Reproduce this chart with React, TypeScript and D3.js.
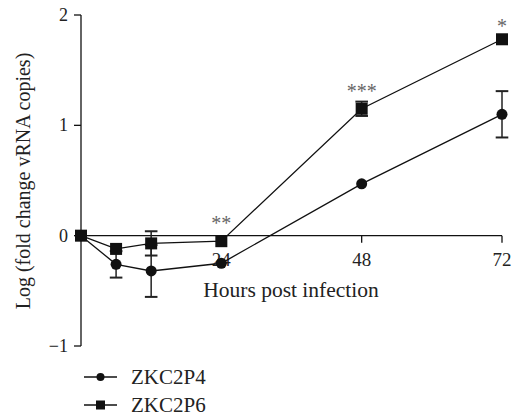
import React, { useEffect, useRef } from 'react';
import * as d3 from 'd3';

// hours post infection
const hours = [0, 6, 12, 24, 48, 72];
const xTicks = [24, 48, 72];
const yTicks = [-1, 0, 1, 2];

// log fold change, mean and error
const p4Mean = [0, -0.26, -0.32, -0.25, 0.47, 1.1];
const p4Err = [0, 0.12, 0.235, 0, 0, 0.21];
const p6Mean = [0, -0.12, -0.07, -0.05, 1.15, 1.78];
const p6Err = [0, 0, 0.11, 0, 0.065, 0];

const seriesNames = ['ZKC2P4', 'ZKC2P6'];

// significance marks: hour, level (data units), label
const starHours = [24, 48, 72];
const starLevels = [0.13, 1.33, 1.92];
const starLabels = ['**', '***', '*'];

const W = 513;
const H = 417;
const FONT = '"Liberation Serif", "Times New Roman", serif';

const App = () => {
  const svgRef = useRef<SVGSVGElement | null>(null);

  useEffect(() => {
    const svg = d3.select(svgRef.current);
    svg.selectAll('*').remove();

    const x = d3.scaleLinear().domain([0, 72]).range([81, 502]);
    const y = d3.scaleLinear().domain([-1, 2]).range([346, 15]);

    const g = svg.append('g').style('font-family', FONT);

    // y axis
    g.append('line')
      .attr('x1', x(0)).attr('x2', x(0))
      .attr('y1', y(2)).attr('y2', y(-1))
      .attr('stroke', '#111').attr('stroke-width', 1.3);
    yTicks.forEach((t) => {
      g.append('line')
        .attr('x1', x(0) - 7).attr('x2', x(0))
        .attr('y1', y(t)).attr('y2', y(t))
        .attr('stroke', '#111').attr('stroke-width', 1.3);
      g.append('text')
        .attr('x', x(0) - 13).attr('y', y(t))
        .attr('dy', '0.34em')
        .attr('text-anchor', 'end')
        .style('font-size', '18px')
        .attr('fill', '#222')
        .text(t < 0 ? `\u2212${Math.abs(t)}` : `${t}`);
    });

    // x axis at zero
    g.append('line')
      .attr('x1', x(0)).attr('x2', x(72))
      .attr('y1', y(0)).attr('y2', y(0))
      .attr('stroke', '#111').attr('stroke-width', 1.3);
    xTicks.forEach((t) => {
      g.append('line')
        .attr('x1', x(t)).attr('x2', x(t))
        .attr('y1', y(0)).attr('y2', y(0) + 7)
        .attr('stroke', '#111').attr('stroke-width', 1.3);
      g.append('text')
        .attr('x', x(t)).attr('y', y(0) + 30)
        .attr('text-anchor', 'middle')
        .style('font-size', '19px')
        .attr('fill', '#222')
        .text(t);
    });

    g.append('text')
      .attr('x', 291).attr('y', 297)
      .attr('text-anchor', 'middle')
      .style('font-size', '21.5px')
      .attr('fill', '#222')
      .text('Hours post infection');

    g.append('text')
      .attr('transform', `translate(30,${181}) rotate(-90)`)
      .attr('text-anchor', 'middle')
      .style('font-size', '20px')
      .attr('fill', '#222')
      .text('Log (fold change vRNA copies)');

    const line = d3.line<number>()
      .x((_, i) => x(hours[i]))
      .y((d) => y(d));

    const drawSeries = (mean: number[], err: number[], shape: string) => {
      g.append('path')
        .datum(mean)
        .attr('d', line)
        .attr('fill', 'none')
        .attr('stroke', '#111')
        .attr('stroke-width', 1.3);

      mean.forEach((m, i) => {
        if (err[i] > 0) {
          const cx = x(hours[i]);
          const lo = y(m - err[i]);
          const hi = y(m + err[i]);
          g.append('line').attr('x1', cx).attr('x2', cx).attr('y1', lo).attr('y2', hi)
            .attr('stroke', '#222').attr('stroke-width', 1.5);
          [lo, hi].forEach((yy) => {
            g.append('line').attr('x1', cx - 6.3).attr('x2', cx + 6.3).attr('y1', yy).attr('y2', yy)
              .attr('stroke', '#222').attr('stroke-width', 2);
          });
        }
      });

      mean.forEach((m, i) => {
        const cx = x(hours[i]);
        const cy = y(m);
        if (shape === 'circle') {
          g.append('circle').attr('cx', cx).attr('cy', cy).attr('r', 5.5).attr('fill', '#111');
        } else {
          g.append('rect').attr('x', cx - 6).attr('y', cy - 6).attr('width', 12).attr('height', 12)
            .attr('fill', '#111');
        }
      });
    };

    drawSeries(p4Mean, p4Err, 'circle');
    drawSeries(p6Mean, p6Err, 'square');

    // significance asterisks
    starHours.forEach((h, i) => {
      g.append('text')
        .attr('x', x(h)).attr('y', y(starLevels[i]) + 9)
        .attr('text-anchor', 'middle')
        .style('font-size', '20px')
        .attr('fill', '#666')
        .text(starLabels[i]);
    });

    // legend
    const legendY = [377, 405];
    seriesNames.forEach((name, i) => {
      const ly = legendY[i];
      g.append('line').attr('x1', 84).attr('x2', 117).attr('y1', ly).attr('y2', ly)
        .attr('stroke', '#111').attr('stroke-width', 1.3);
      if (i === 0) {
        g.append('circle').attr('cx', 100.5).attr('cy', ly).attr('r', 4).attr('fill', '#111');
      } else {
        g.append('rect').attr('x', 96).attr('y', ly - 4.5).attr('width', 9).attr('height', 9).attr('fill', '#111');
      }
      g.append('text')
        .attr('x', 131).attr('y', ly).attr('dy', '0.35em')
        .style('font-size', '21px')
        .attr('fill', '#222')
        .text(name);
    });
  }, []);

  return (
    <svg
      ref={svgRef}
      width={W}
      height={H}
      style={{ position: 'absolute', left: 0, top: 0, background: '#fff' }}
    />
  );
};

export default App;
